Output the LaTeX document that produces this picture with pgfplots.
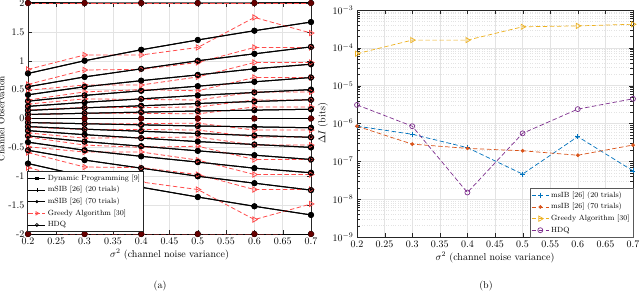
\documentclass[border=0pt]{standalone}
\usepackage{pgfplots}
\usepackage{pgfplotstable}
\pgfplotsset{compat=1.18}
\definecolor{mblue}{rgb}{0,0.447,0.741}
\definecolor{morange}{rgb}{0.85,0.325,0.098}
\definecolor{myellow}{rgb}{0.929,0.694,0.125}
\definecolor{mpurple}{rgb}{0.494,0.184,0.556}
\definecolor{gred}{rgb}{1,0.3,0.3}
\definecolor{axgray}{rgb}{0.15,0.15,0.15}

\pgfplotstableread{
x   p2 a1   a2   a3    a4    a5   a6    a7    z  b7     b6     b5    b4     b3     b2    b1    m2
0.2 2  0.78 0.55 0.41  0.30  0.21 0.14  0.07  0  -0.07  -0.14  -0.21 -0.30  -0.41  -0.55 -0.78 -2
0.3 2  1.00 0.72 0.55  0.40  0.28 0.185 0.09  0  -0.09  -0.185 -0.28 -0.40  -0.55  -0.72 -1.00 -2
0.4 2  1.19 0.86 0.655 0.48  0.34 0.22  0.11  0  -0.11  -0.22  -0.34 -0.48  -0.655 -0.86 -1.19 -2
0.5 2  1.36 1.00 0.755 0.56  0.40 0.26  0.13  0  -0.13  -0.26  -0.40 -0.56  -0.755 -1.00 -1.36 -2
0.6 2  1.52 1.12 0.86  0.635 0.45 0.295 0.145 0  -0.145 -0.295 -0.45 -0.635 -0.86  -1.12 -1.52 -2
0.7 2  1.67 1.24 0.94  0.71  0.50 0.325 0.16  0  -0.16  -0.325 -0.50 -0.71  -0.94  -1.24 -1.67 -2
}\thr

\pgfplotstableread{
x   p2 a1   a2   a3   a4   a5   a6   a7   z  b7    b6    b5    b4    b3    b2    b1    m2
0.2 2  0.85 0.59 0.49 0.32 0.25 0.15 0.07 0  -0.07 -0.15 -0.25 -0.32 -0.49 -0.59 -0.85 -2
0.3 2  1.10 0.84 0.58 0.46 0.34 0.19 0.09 0  -0.09 -0.19 -0.34 -0.46 -0.58 -0.84 -1.10 -2
0.4 2  1.10 0.85 0.58 0.50 0.33 0.19 0.09 0  -0.09 -0.19 -0.33 -0.50 -0.58 -0.85 -1.10 -2
0.5 2  1.23 0.97 0.72 0.48 0.32 0.20 0.08 0  -0.08 -0.20 -0.32 -0.48 -0.72 -0.97 -1.23 -2
0.6 2  1.75 1.23 0.97 0.71 0.46 0.32 0.20 0  -0.20 -0.32 -0.46 -0.71 -0.97 -1.23 -1.75 -2
0.7 2  1.48 1.23 0.97 0.71 0.46 0.32 0.20 0  -0.20 -0.32 -0.46 -0.71 -0.97 -1.23 -1.48 -2
}\grd

\pgfplotstableread{
x   m20     m70     gr      hdq
0.2 8.5e-7  8.5e-7  7.0e-5  3.1e-6
0.3 5.2e-7  2.85e-7 1.6e-4  8.5e-7
0.4 2.3e-7  2.2e-7  1.6e-4  1.5e-8
0.5 4.6e-8  1.9e-7  3.6e-4  5.5e-7
0.6 4.5e-7  1.45e-7 3.8e-4  2.4e-6
0.7 5.6e-8  2.7e-7  4.2e-4  4.5e-6
}\dI

\begin{document}
\begin{tikzpicture}
\useasboundingbox (0pt,0pt) rectangle (640pt,292pt);
\pgfplotsset{
  common/.style={
    scale only axis,
    xmin=0.2, xmax=0.7,
    xtick={0.2,0.25,0.3,0.35,0.4,0.45,0.5,0.55,0.6,0.65,0.7},
    xticklabels={0.2,0.25,0.3,0.35,0.4,0.45,0.5,0.55,0.6,0.65,0.7},
    grid=major,
    major grid style={gray!22, line width=0.4pt},
    axis line style={axgray, line width=0.4pt},
    tick style={axgray},
    tick label style={font=\normalsize},
    xlabel={$\sigma^2$ (channel noise variance)},
    xlabel style={yshift=2pt},
    legend cell align=left,
    legend style={font=\fontsize{7.5}{8.5}\selectfont, draw=axgray, fill=white, inner sep=1.2pt, row sep=0.6pt},
  },
  mdash/.style={dash pattern=on 4.5pt off 2.5pt},
}
% ---------------- (a)
\begin{axis}[common,
  at={(28pt,58pt)}, anchor=south west, width=283pt, height=231pt,
  ymin=-2, ymax=2,
  ytick={-2,-1.5,-1,-0.5,0,0.5,1,1.5,2},
  yticklabels={-2,-1.5,-1,-0.5,0,0.5,1,1.5,2},
  ylabel={Channel Observation},
  ylabel style={font=\small, yshift=-3pt},
  legend style={at={(-0.005,0.01)}, anchor=south west},
]
\addlegendimage{black, line width=0.7pt, mark=square, mark size=1.3pt}
\addlegendentry{Dynamic Programming [9]}
\addlegendimage{black, line width=0.7pt, mark=+, mark size=1.8pt}
\addlegendentry{mSIB [26] (20 trials)}
\addlegendimage{black, line width=0.7pt, mark=*, mark size=1.2pt}
\addlegendentry{mSIB [26] (70 trials)}
\addlegendimage{gred, mdash, line width=0.7pt, mark=triangle, mark options={rotate=-90, solid}, mark size=2pt}
\addlegendentry{Greedy Algorithm [30]}
\addlegendimage{black, line width=0.7pt, mark=o, mark size=1.5pt}
\addlegendentry{HDQ}
\pgfplotsinvokeforeach{p2,a1,a2,a3,a4,a5,a6,a7,z,b7,b6,b5,b4,b3,b2,b1,m2}{
  \addplot[black, line width=1pt, mark=*, mark size=2.5pt, forget plot] table[x=x,y=#1]{\thr};
}
\pgfplotsinvokeforeach{p2,a1,a2,a3,a4,a5,a6,a7,z,b7,b6,b5,b4,b3,b2,b1,m2}{
  \addplot[gred, mdash, line width=0.8pt, mark=triangle, mark options={rotate=-90, solid}, mark size=3pt, forget plot] table[x=x,y=#1]{\grd};
}
\pgfplotsinvokeforeach{p2,a1,a2,a3,a4,a5,a6,a7,z,b7,b6,b5,b4,b3,b2,b1,m2}{
  \addplot[black, line width=1pt, mark=o, mark size=2.5pt, forget plot] table[x=x,y=#1]{\thr};
}
\addplot[draw=none, mark=*, mark size=2.5pt, mark options={fill=black!60!red, draw=black!60!red}, forget plot] table[x=x,y=p2]{\thr};
\addplot[draw=none, mark=*, mark size=2.5pt, mark options={fill=black!60!red, draw=black!60!red}, forget plot] table[x=x,y=m2]{\thr};
\addplot[draw=none, mark=*, mark size=2.5pt, mark options={fill=black!60!red, draw=black!60!red}, forget plot] table[x=x,y=z]{\thr};
\end{axis}
% ---------------- (b)
\begin{axis}[common,
  at={(357pt,55pt)}, anchor=south west, width=276pt, height=227pt,
  ymode=log, ymin=1e-9, ymax=1e-3,
  ytick={1e-9,1e-8,1e-7,1e-6,1e-5,1e-4,1e-3},
  grid=both,
  minor grid style={gray!22, dotted, line width=0.4pt},
  ylabel={$\Delta I$ (bits)},
  ylabel style={yshift=-2pt},
  legend style={at={(1,0)}, anchor=south east, draw=gray!70!black},
]
\addplot[mblue, mdash, line width=0.7pt, mark=+, mark size=2.5pt, mark options={solid}] table[x=x,y=m20]{\dI};
\addlegendentry{msIB [26] (20 trials)}
\addplot[morange, mdash, line width=0.7pt, mark=*, mark size=1.5pt, mark options={solid}] table[x=x,y=m70]{\dI};
\addlegendentry{msIB [26] (70 trials)}
\addplot[myellow, mdash, line width=0.7pt, mark=triangle, mark size=3pt, mark options={solid, rotate=-90}] table[x=x,y=gr]{\dI};
\addlegendentry{Greedy Algorithm [30]}
\addplot[mpurple, mdash, line width=0.7pt, mark=o, mark size=2.5pt, mark options={solid}] table[x=x,y=hdq]{\dI};
\addlegendentry{HDQ}
\end{axis}
\node at (160pt,6pt) {(a)};
\node at (486pt,6pt) {(b)};
\end{tikzpicture}
\end{document}
